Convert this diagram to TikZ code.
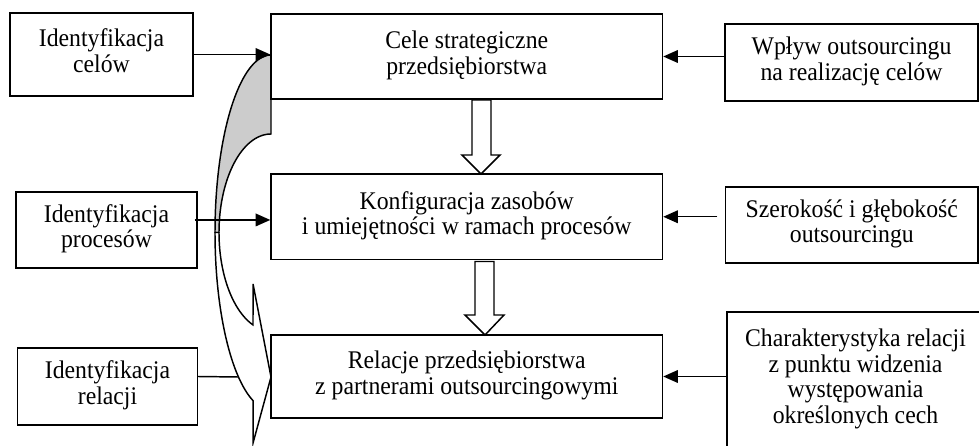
\documentclass[tikz,border=0pt]{standalone}
\usepackage{fontspec}
\usepackage{graphicx}
\setmainfont{Liberation Serif}
\usetikzlibrary{arrows.meta}
\definecolor{shadegray}{RGB}{204,204,204}
\newcommand{\tx}[1]{\scalebox{1}[1.07]{\begin{tabular}{@{}c@{}}#1\end{tabular}}}
\tikzset{
  box/.style={draw=black, line width=1.1pt, rectangle, inner sep=0pt,
    font=\fontsize{17.8pt}{17.9pt}\selectfont, align=center},
  arr/.style={draw=black, line width=1.1pt, -{Triangle[length=11pt,width=9.5pt]}},
  plain/.style={draw=black, line width=1.1pt},
  blockarrow/.style={draw=black, line width=1.1pt, fill=white, line join=miter},
  bandback/.style={draw=black, line width=1.1pt, fill=shadegray, line join=miter},
  bandfront/.style={draw=black, line width=1.1pt, fill=white, line join=miter}
}
\begin{document}
\begin{tikzpicture}[x=0.75pt,y=-0.75pt]
\useasboundingbox (0,0) rectangle (979,446);
\clip (0,0) rectangle (979,446);

% curved arrow (back face, grey)
\path[bandback] plot[domain=90:180,samples=50] ({271+56*cos(\x)},{232.5-177.5*sin(\x)})
  -- plot[domain=180:90,samples=50] ({271+52*cos(\x)},{232.5-98.5*sin(\x)}) -- cycle;
% curved arrow (front face with head)
\path[bandfront] plot[domain=180:251.3,samples=50] ({271+56*cos(\x)},{232.5-177.5*sin(\x)})
  -- (253.05,443) -- (271,377) -- (253.05,284)
  -- plot[domain=249.75:180,samples=50] ({271+52*cos(\x)},{232.5-98.5*sin(\x)}) -- cycle;
\coordinate (cv) at (238.5,377);

% left boxes
\node[box, minimum width=137.25pt, minimum height=62.25pt] (L1) at (101.5,54.5) {\tx{Identyfikacja\\celów}};
\node[box, minimum width=135.75pt, minimum height=57pt] (L2) at (106.5,230) {\tx{Identyfikacja\\procesów}};
\node[box, minimum width=135pt, minimum height=57.75pt] (L3) at (107.5,386.5) {\tx{Identyfikacja\\relacji}};

% centre boxes
\node[box, minimum width=293.6pt, minimum height=63.75pt] (C1) at (466.75,56.5) {\tx{Cele strategiczne\\przedsiębiorstwa}};
\node[box, minimum width=293.6pt, minimum height=64.1pt] (C2) at (466.75,216.75) {\tx{Konfiguracja zasobów\\i umiejętności w ramach procesów}};
\node[box, minimum width=293.6pt, minimum height=62.25pt] (C3) at (466.75,376.5) {\tx{Relacje przedsiębiorstwa\\z partnerami outsourcingowymi}};

% right boxes
\node[box, minimum width=189.75pt, minimum height=57.75pt] (R1) at (851.5,62.5) {\tx{Wpływ outsourcingu\\na realizację celów}};
\node[box, minimum width=189.2pt, minimum height=57pt] (R2) at (851.85,225) {\tx{Szerokość i głębokość\\outsourcingu}};
\node[box, minimum width=192.75pt, minimum height=102pt] (R3) at (855.5,380) {\tx{Charakterystyka relacji\\z punktu widzenia\\występowania\\określonych cech}};

% hollow block arrows between centre boxes
\path[blockarrow] (472,100) -- (472,155) -- (462,155) -- (481,174) -- (500,155) -- (491,155) -- (491,100) -- cycle;
\path[blockarrow] (475,261.5) -- (475,315) -- (465,315) -- (485,335) -- (504,315) -- (494,315) -- (494,261.5) -- cycle;

% left connectors
\draw[arr] (L1.east) -- (L1.east -| C1.west);
\coordinate (m2) at ([yshift=-2.4pt]C2.west);
\draw[arr] ([xshift=-2.25pt]L2.east |- m2) -- (m2);
\draw[plain] (L3.east |- C3.west) -- (cv);

% right connectors
\draw[arr] (R1.west |- C1.east) -- (C1.east);
\draw[arr] ([xshift=-5.8pt]R2.west |- C2.east) -- (C2.east);
\draw[arr] (R3.west |- C3.east) -- (C3.east);
\end{tikzpicture}
\end{document}
